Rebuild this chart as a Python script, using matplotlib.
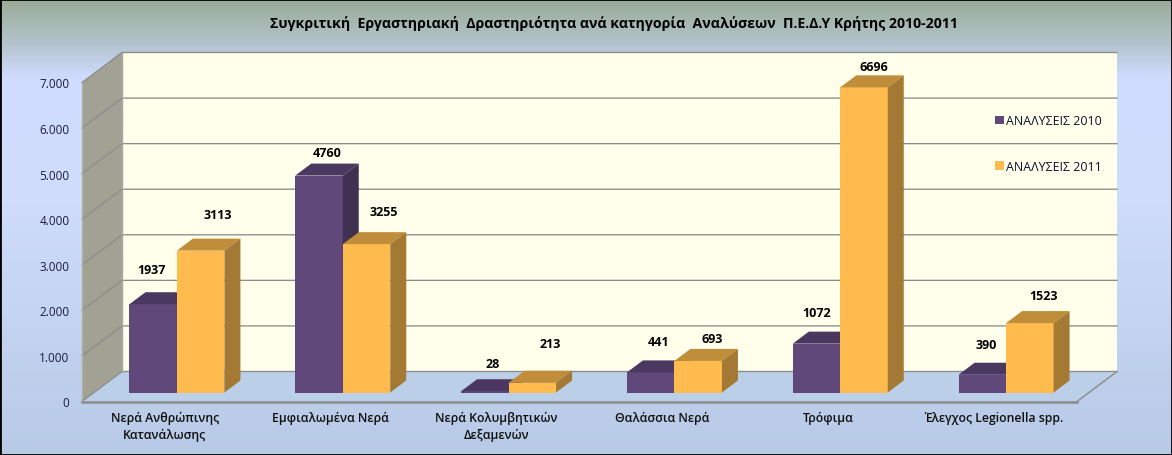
"""Comparative lab activity per analysis category, drawn as a fake 3D column chart."""

import numpy as np
import matplotlib.pyplot as plt
from matplotlib.colors import LinearSegmentedColormap
from matplotlib.patches import Polygon, Patch

plt.rcParams["font.family"] = ["Open Sans", "DejaVu Sans"]

categories = [
    "Νερά Ανθρώπινης\nΚατανάλωσης",
    "Εμφιαλωμένα Νερά",
    "Νερά Κολυμβητικών\nΔεξαμενών",
    "Θαλάσσια Νερά",
    "Τρόφιμα",
    "Έλεγχος Legionella spp.",
]
analyses_2010 = [1937, 4760, 28, 441, 1072, 390]
analyses_2011 = [3113, 3255, 213, 693, 6696, 1523]
series_names = ["ΑΝΑΛΥΣΕΙΣ 2010", "ΑΝΑΛΥΣΕΙΣ 2011"]
y_ticks = [0, 1000, 2000, 3000, 4000, 5000, 6000, 7000]
y_tick_labels = ["0", "1.000", "2.000", "3.000", "4.000", "5.000", "6.000", "7.000"]
title = "Συγκριτική  Εργαστηριακή  Δραστηριότητα ανά κατηγορία  Αναλύσεων  Π.Ε.Δ.Υ Κρήτης 2010-2011"

# label nudges in pixels, relative to the middle of each bar top
label_nudge_2010 = [(-2, 35), (8, 23), (8, 28), (8, 31), (0, 31), (4, 30)]
label_nudge_2011 = [(17, 36), (17, 33), (18, 39), (14, 22), (10, 21), (14, 28)]

PURPLE = ("#60497a", "#4b3861", "#403052")
ORANGE = ("#ffbb4d", "#c08d3a", "#a37934")
GRID = "#8c8c8c"

fig = plt.figure(figsize=(11.72, 4.56), dpi=100)

# background gradient
bg = fig.add_axes([0, 0, 1, 1], zorder=0)
cmap = LinearSegmentedColormap.from_list(
    "bg",
    [(0, "#98ac96"), (0.11, "#b8c8d6"), (0.17, "#d0dcff"), (0.45, "#cfdcfb"), (1, "#b7cae6")],
)
bg.imshow(np.linspace(0, 1, 456)[:, None], aspect="auto", cmap=cmap, extent=[0, 1, 0, 1])
bg.set_xticks([])
bg.set_yticks([])
for s in bg.spines.values():
    s.set_edgecolor("black")
    s.set_linewidth(2)

# main axes is the front plane of the 3D box
ax = fig.add_axes([82 / 1172, 53.5 / 456, 995 / 1172, 319 / 456], zorder=1)
ax.patch.set_alpha(0)
ax.set_xlim(0, 6)
ax.set_ylim(0, 7000)
for s in ax.spines.values():
    s.set_visible(False)

# data units per pixel
px = 6 / 995
py = 7000 / 319
box_dx, box_dy = 40 * px, 30 * py
bar_dx, bar_dy = 16 * px, 12 * py
shift_x, shift_y = 12 * px, 9 * py
bar_w = 47.5 * px
top = y_ticks[-1]


def poly(points, color, z, edge="none", lw=0):
    ax.add_patch(Polygon(points, closed=True, facecolor=color, edgecolor=edge,
                         linewidth=lw, zorder=z, clip_on=False))


# walls and floor
poly([(box_dx, box_dy), (6 + box_dx, box_dy), (6 + box_dx, top + box_dy), (box_dx, top + box_dy)],
     "#ffffeb", 1)
poly([(0, 0), (box_dx, box_dy), (box_dx, top + box_dy), (0, top)], "#a2a294", 1)
poly([(0, 0), (6, 0), (6 + box_dx, box_dy), (box_dx, box_dy)], "#bccfe8", 1)

for v in y_ticks:
    ax.plot([0, box_dx, 6 + box_dx], [v, v + box_dy, v + box_dy], color=GRID,
            lw=0.95, zorder=2, clip_on=False)
ax.plot([box_dx, box_dx], [box_dy, top + box_dy], color="#a8a8a8", lw=1, zorder=2, clip_on=False)
ax.plot([6, 6 + box_dx], [0, box_dy], color=GRID, lw=1, zorder=2, clip_on=False)
ax.plot([0, 0], [0, top], color="#b0b0a8", lw=1, zorder=2, clip_on=False)
ax.plot([0, 6], [0, 0], color=GRID, lw=1.8, zorder=2, clip_on=False)


def draw_bar(x, value, colors, z):
    # x is the left edge of the front face
    ax.bar(x, value, width=bar_w, bottom=shift_y, align="edge", color=colors[0],
           zorder=z, clip_on=False)
    h = shift_y + value
    poly([(x, h), (x + bar_w, h), (x + bar_w + bar_dx, h + bar_dy), (x + bar_dx, h + bar_dy)],
         colors[1], z)
    poly([(x + bar_w, shift_y), (x + bar_w + bar_dx, shift_y + bar_dy),
          (x + bar_w + bar_dx, h + bar_dy), (x + bar_w, h)], colors[2], z)


for i in range(len(categories)):
    mid = i + 0.5 + shift_x
    z = 3 + i * 2
    draw_bar(mid - bar_w, analyses_2010[i], PURPLE, z)
    draw_bar(mid, analyses_2011[i], ORANGE, z + 1)
    for x, v, nudge in ((mid - bar_w / 2, analyses_2010[i], label_nudge_2010[i]),
                        (mid + bar_w / 2, analyses_2011[i], label_nudge_2011[i])):
        ax.annotate(str(v), (x, v + shift_y), xytext=(nudge[0] * 0.72, nudge[1] * 0.72),
                    textcoords="offset points", ha="center", va="center",
                    fontsize=9, fontweight="bold", color="black", zorder=30)

ax.set_xticks([i + 0.5 for i in range(len(categories))])
ax.set_xticklabels(categories, fontsize=8.8, fontweight="semibold", color="#101010", linespacing=1.35)
ax.set_yticks(y_ticks)
ax.set_yticklabels(y_tick_labels, fontsize=8.5, color="#1a1a40")
ax.tick_params(axis="x", length=0, pad=7)
ax.tick_params(axis="y", length=0, pad=9)

handles = [Patch(facecolor=PURPLE[0]), Patch(facecolor=ORANGE[0])]
leg = ax.legend(handles, series_names, loc="upper left", bbox_to_anchor=(0.9175, 0.9),
                frameon=False, fontsize=8.9, labelspacing=2.6, handlelength=0.72,
                handleheight=0.72, handletextpad=0.2, borderpad=0, borderaxespad=0)
leg.set_zorder(40)
for t in leg.get_texts():
    t.set_color("#101030")

fig.text(614 / 1172, 1 - 24 / 456, title, ha="center", va="center", fontsize=10.2,
         fontweight="bold", color="black")

fig.savefig("out.png", dpi=100)
plt.close(fig)
